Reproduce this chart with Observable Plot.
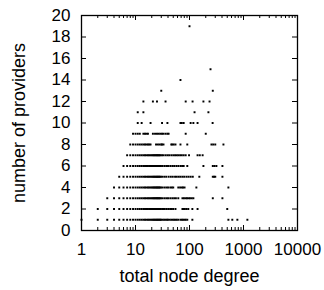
<!DOCTYPE html>
<html><head><meta charset="utf-8">
<script src="https://cdn.jsdelivr.net/npm/d3@7"></script>
<script src="https://cdn.jsdelivr.net/npm/@observablehq/plot@0.6"></script>
<style>body{margin:0;background:#fff} svg{display:block}</style>
</head><body><div id="chart"></div>
<script>
// Tick values
const yTicks = [0, 2, 4, 6, 8, 10, 12, 14, 16, 18, 20];
const xTickLabels = [1, 10, 100, 1000, 10000];
const xMinorTicks = [2,3,4,5,6,7,8,9,20,30,40,50,60,70,80,90,200,300,400,500,600,700,800,900,2000,3000,4000,5000,6000,7000,8000,9000];

// Total node degree values observed for each number of providers
const deg1 = [1,2,3,4,5,6,7,8,9,10,11,12,13,14,15,16,17,18,19,20,21,22,23,24,25,26,27,28,29,30,32,34,36,38,40,43,46,49,52,55,58,62,68,72,76,81,85,91,113,525,620,770,1180];
const deg2 = [2,3,4,5,6,7,8,9,10,11,12,13,14,15,16,17,18,19,20,21,22,23,24,25,26,27,28,29,31,33,35,38,41,44,47,50,55,74,78,82,88,95,113,141,500];
const deg3 = [3,4,5,6,7,8,9,10,11,12,13,14,15,16,17,18,19,20,21,22,23,24,25,26,27,28,29,31,34,37,40,44,48,52,56,62,74,79,85,90,96,102,110,118,270,407];
const deg4 = [4,5,6,7,8,9,10,11,12,13,14,15,16,17,18,19,20,21,22,23,24,25,26,27,28,29,31,34,37,40,44,47,50,62,67,72,76,81,134,525];
const deg5 = [5,6,7,8,9,10,11,12,13,14,15,16,17,18,19,20,21,22,23,24,25,26,27,28,29,31,34,37,41,45,49,54,58,63,68,74,80,88,96,105,115,152,270,285,300,407];
const deg6 = [6,7,8,9,10,11,12,13,14,15,16,17,18,19,20,21,22,23,24,25,26,27,28,29,31,34,37,40,44,48,52,57,62,68,73,78,91,181,270,290,315,407];
const deg7 = [7,8,9,10,11,12,13,14,15,16,17,18,19,20,21,22,23,24,25,26,27,28,29,31,33,36,39,42,46,50,54,58,62,67,72,78,85,98,141,155,175];
const deg8 = [8,9,10,11,12,13,14,15,16,17,18,19,24,26,28,30,31,33,46,48,51,55,68,91,255,275,300,425];
const deg9 = [9,10,11,12,14,15,16,17,21,23,25,27,29,31,33,36,39,41,85,200];
const deg10 = [11,13,19,31,39,68,72,78,105,118,141,268];
const deg11 = [11,14,124,224];
const deg12 = [14,21,25,36,85,114,181,235];
const deg13 = [30,270];
const deg14 = [68];
const deg15 = [245];
const deg19 = [100];

const providerRows = [
  [1, deg1], [2, deg2], [3, deg3], [4, deg4], [5, deg5], [6, deg6], [7, deg7], [8, deg8],
  [9, deg9], [10, deg10], [11, deg11], [12, deg12], [13, deg13], [14, deg14], [15, deg15], [19, deg19]
];
const data = providerRows.flatMap(([p, ds]) => ds.map(d => ({degree: d, providers: p})));

const W = 324, H = 290, mL = 81, mR = 27, mT = 15, mB = 60;
const plotW = W - mL - mR, plotH = H - mT - mB;
const FS = 17, TS = 18;

const chart = Plot.plot({
  width: W, height: H,
  marginLeft: mL, marginRight: mR, marginTop: mT, marginBottom: mB,
  style: {fontFamily: "'Liberation Sans', Arial, sans-serif", fontSize: FS + "px", background: "white", color: "black"},
  x: {type: "log", domain: [1, 10000]},
  y: {domain: [0, 20]},
  marks: [
    Plot.tickY(yTicks, {y: d => d, insetRight: plotW - 5, stroke: "black"}),
    Plot.tickY(yTicks, {y: d => d, insetLeft: plotW - 5, stroke: "black"}),
    Plot.tickX(xTickLabels, {x: d => d, insetTop: plotH - 5, stroke: "black"}),
    Plot.tickX(xTickLabels, {x: d => d, insetBottom: plotH - 5, stroke: "black"}),
    Plot.tickX(xMinorTicks, {x: d => d, insetTop: plotH - 3, stroke: "black"}),
    Plot.tickX(xMinorTicks, {x: d => d, insetBottom: plotH - 3, stroke: "black"}),
    Plot.dot(data, {x: "degree", y: "providers", r: 1.1, fill: "black", symbol: "square"}),
    Plot.frame({stroke: "black", strokeWidth: 1.3}),
    Plot.axisX({ticks: xTickLabels, tickSize: 0, tickPadding: 12, tickFormat: d => String(d), label: null, fontSize: FS}),
    Plot.axisY({ticks: yTicks, tickSize: 0, tickPadding: 11, label: null, fontSize: FS}),
    Plot.text(["total node degree"], {frameAnchor: "bottom", dy: 46, textAnchor: "middle", lineAnchor: "middle", fontSize: TS}),
    Plot.text(["number of providers"], {frameAnchor: "left", dx: -62, rotate: -90, textAnchor: "middle", lineAnchor: "middle", fontSize: TS})
  ]
});
document.getElementById("chart").appendChild(chart);
</script>
</body></html>
